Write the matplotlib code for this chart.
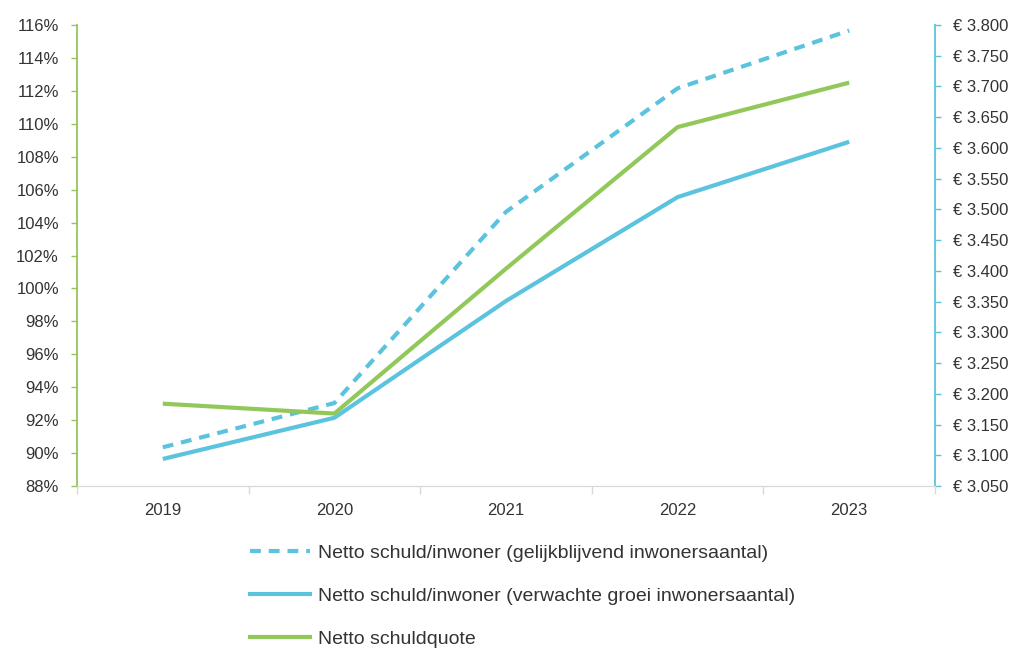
import matplotlib.pyplot as plt
import matplotlib.ticker as mticker
from matplotlib.lines import Line2D

plt.rcParams['font.family'] = ['Liberation Sans', 'DejaVu Sans']

# data
years = ['2019', '2020', '2021', '2022', '2023']
schuld_gelijk = [3113, 3185, 3496, 3697, 3791]      # euro per inwoner, right axis
schuld_groei = [3094, 3161, 3351, 3520, 3610]       # euro per inwoner, right axis
schuldquote = [93.0, 92.4, 101.2, 109.8, 112.5]     # percent, left axis

label_gelijk = 'Netto schuld/inwoner (gelijkblijvend inwonersaantal)'
label_groei = 'Netto schuld/inwoner (verwachte groei inwonersaantal)'
label_quote = 'Netto schuldquote'

blue = '#5BC3DE'
green = '#92C85A'
grey = '#D9D9D9'
text_col = '#333333'

fig = plt.figure(figsize=(10.25, 6.49), dpi=100)
ax1 = fig.add_axes([77 / 1025, 1 - 486 / 649, (935 - 77) / 1025, (486 - 25) / 649])
ax2 = ax1.twinx()

x = list(range(len(years)))

# left axis: schuldquote
ax1.plot(x, schuldquote, color=green, lw=3, solid_capstyle='butt', zorder=3)
ax1.set_ylim(88, 116)
ax1.set_yticks(range(88, 117, 2))
ax1.yaxis.set_major_formatter(mticker.FuncFormatter(lambda v, p: f'{v:.0f}%'))
ax1.set_xlim(-0.5, len(years) - 0.5)

# right axis: schuld per inwoner
ax2.plot(x, schuld_gelijk, color=blue, lw=3, dashes=(2.6, 1.9), zorder=2)
ax2.plot(x, schuld_groei, color=blue, lw=3, solid_capstyle='butt', zorder=2)
ax2.set_ylim(3050, 3800)
ax2.set_yticks(range(3050, 3801, 50))
ax2.yaxis.set_major_formatter(
    mticker.FuncFormatter(lambda v, p: '€ ' + f'{v:,.0f}'.replace(',', '.')))
ax1.set_zorder(ax2.get_zorder() + 1)
ax1.patch.set_visible(False)

# x axis: labels in the middle, ticks between categories
ax1.set_xticks(x)
ax1.set_xticklabels(years)
ax1.set_xticks([i - 0.5 for i in range(len(years) + 1)], minor=True)
ax1.tick_params(axis='x', which='major', length=0, pad=12, labelsize=12, labelcolor=text_col)
ax1.tick_params(axis='x', which='minor', length=6, color=grey, width=1)

ax1.tick_params(axis='y', length=4, color=green, width=1, labelsize=12,
                labelcolor=text_col, pad=9)
ax2.tick_params(axis='y', length=4, color=blue, width=1, labelsize=12,
                labelcolor=text_col, pad=9)

for ax in (ax1, ax2):
    ax.spines['top'].set_visible(False)
    ax.spines['bottom'].set_color(grey)
ax1.spines['left'].set_color(green)
ax1.spines['left'].set_linewidth(1.3)
ax1.spines['right'].set_visible(False)
ax2.spines['left'].set_visible(False)
ax2.spines['right'].set_color(blue)
ax2.spines['right'].set_linewidth(1.3)

handles = [
    Line2D([], [], color=blue, lw=3, dashes=(2.6, 1.9)),
    Line2D([], [], color=blue, lw=3),
    Line2D([], [], color=green, lw=3),
]
fig.legend(handles, [label_gelijk, label_groei, label_quote],
           loc='upper left', bbox_to_anchor=(232 / 1025, 1 - 527 / 649),
           frameon=False, fontsize=14, labelcolor=text_col,
           handlelength=3.1, handletextpad=0.4, labelspacing=1.3)

fig.savefig('out.png', dpi=100)
